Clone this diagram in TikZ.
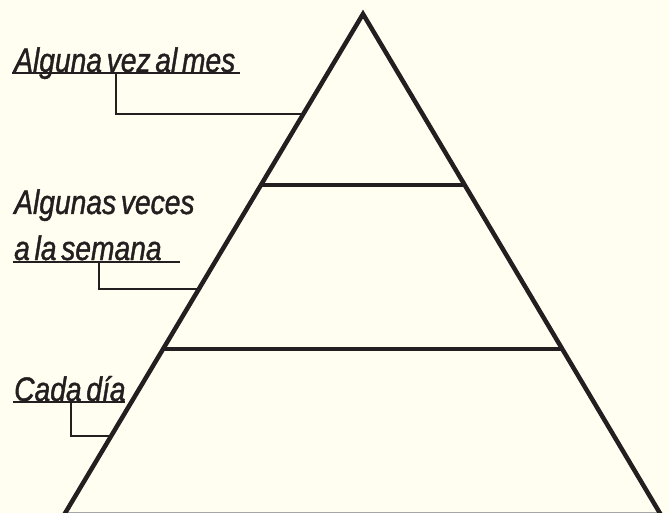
\documentclass[tikz,border=0pt]{standalone}
\usepackage{fontspec}
\setmainfont{Liberation Sans}[FakeStretch=0.83, FakeBold=1.2, WordSpace=0.6]
\usetikzlibrary{calc}
\definecolor{bg}{HTML}{FFFEF0}
\definecolor{ink}{HTML}{231F20}
\begin{document}
\begin{tikzpicture}[x=1pt,y=-1pt,
  lab/.style={font=\itshape\fontsize{34}{38}\selectfont, text=ink, inner sep=0pt, anchor=base west},
  tri/.style={draw=ink, line width=4.5pt, line join=miter},
  lead/.style={draw=ink, line width=2pt},
  uline/.style={draw=ink, line width=1.6pt}]
\fill[bg] (0,0) rectangle (669,513);
\useasboundingbox (0,0) rectangle (669,513);
% pyramid
\coordinate (apex) at (363,14);
\coordinate (bl) at (64,515);
\coordinate (br) at (661,515);
\draw[gray!70, line width=1pt] (64,512) -- (661,512);
\draw[tri] (bl) -- (apex) -- (br);
\coordinate (d1l) at ($(apex)!0.341!(bl)$);
\coordinate (d1r) at ($(apex)!0.341!(br)$);
\coordinate (d2l) at ($(apex)!0.669!(bl)$);
\coordinate (d2r) at ($(apex)!0.669!(br)$);
\draw[tri] (d1l) -- (d1r);
\draw[tri] (d2l) -- (d2r);
% edge points for leaders
\coordinate (e1) at ($(apex)!0.2!(bl)$);
\coordinate (e2) at ($(apex)!0.549!(bl)$);
\coordinate (e3) at ($(apex)!0.843!(bl)$);
% labels
\node[lab] (t1) at (14,72) {Alguna vez al mes};
\node[lab] (t2a) at (14,214) {Algunas veces};
\node[lab] (t2b) at (14,260) {a la semana};
\node[lab] (t3) at (14,401) {Cada día};
% underlines
\draw[uline] (12,73) coordinate (u1a) -- (240,73) coordinate (u1b);
\draw[uline] (13,262) coordinate (u2a) -- (180,262) coordinate (u2b);
\draw[uline] (13,402) coordinate (u3a) -- (125,402) coordinate (u3b);
% leaders
\coordinate (s1) at (116,73);
\coordinate (s2) at (99,262);
\coordinate (s3) at (71,402);
\draw[lead] (s1) |- (e1);
\draw[lead] (s2) |- (e2);
\draw[lead] (s3) |- (e3);
\end{tikzpicture}
\end{document}
